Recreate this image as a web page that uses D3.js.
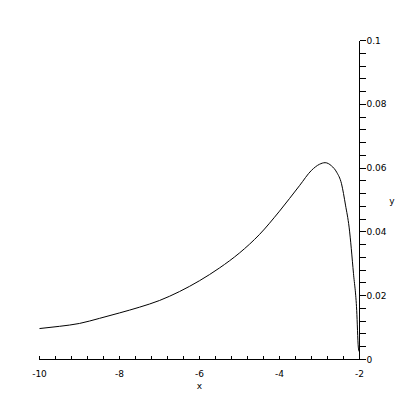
<!DOCTYPE html>
<html>
<head>
<meta charset="utf-8">
<script src="https://cdn.jsdelivr.net/npm/d3@7.9.0/dist/d3.min.js"></script>
<style>
  body { margin: 0; background: #fff; }
  text { font-family: "DejaVu Sans", sans-serif; font-size: 9px; fill: #000; }
  .axis line { shape-rendering: crispEdges; }
</style>
</head>
<body>
<svg id="chart" width="400" height="400"></svg>
<script>
// curve samples
const xValues = [-10, -9.5, -9, -8.5, -8, -7.5, -7, -6.5, -6, -5.5, -5, -4.5, -4, -3.5,
  -3.2, -3.0, -2.86, -2.7, -2.57, -2.45, -2.35, -2.26, -2.15, -2.07, -2.03, -2.01];
const yValues = [0.0097, 0.0104, 0.0113, 0.0129, 0.0146, 0.0164, 0.0185, 0.0213, 0.0247,
  0.0287, 0.0334, 0.0392, 0.0465, 0.0545, 0.0593, 0.0612, 0.0617, 0.0607, 0.0587, 0.0551,
  0.0484, 0.0415, 0.0269, 0.0154, 0.0039, 0.0025];

const xTickLabels = [-10, -8, -6, -4, -2];
const yTickLabels = [0, 0.02, 0.04, 0.06, 0.08, 0.1];

const svg = d3.select('#chart');
const axes = svg.append('g').attr('class', 'axis');

const x = d3.scaleLinear().domain([-10, -2]).range([39.5, 359.5]);
const y = d3.scaleLinear().domain([0, 0.1]).range([359.5, 40.5]);

const xAxisY = y(0);
const yAxisX = x(-2);

// x axis: line, minor ticks pointing up, labels below
axes.append('line')
  .attr('x1', x(-10)).attr('x2', x(-2))
  .attr('y1', xAxisY).attr('y2', xAxisY)
  .attr('stroke', '#000');

const xMinor = d3.range(0, 21).map((i) => -10 + i * 0.4);
axes.selectAll('.xtick').data(xMinor).enter()
  .append('line')
  .attr('x1', (d) => x(d)).attr('x2', (d) => x(d))
  .attr('y1', xAxisY).attr('y2', xAxisY - 4)
  .attr('stroke', '#000');

axes.selectAll('.xlabel').data(xTickLabels).enter()
  .append('text')
  .attr('x', (d) => x(d))
  .attr('y', xAxisY + 17)
  .attr('text-anchor', 'middle')
  .text((d) => d);

axes.append('text')
  .attr('x', x(-6)).attr('y', 389)
  .attr('text-anchor', 'middle')
  .text('x');

// y axis on the right, ticks pointing right
axes.append('line')
  .attr('x1', yAxisX).attr('x2', yAxisX)
  .attr('y1', y(0)).attr('y2', y(0.1))
  .attr('stroke', '#000');

const yMinor = d3.range(0, 26).map((i) => i * 0.004);
axes.selectAll('.ytick').data(yMinor).enter()
  .append('line')
  .attr('x1', yAxisX).attr('x2', yAxisX + 6)
  .attr('y1', (d) => y(d)).attr('y2', (d) => y(d))
  .attr('stroke', '#000');

axes.selectAll('.ylabel').data(yTickLabels).enter()
  .append('text')
  .attr('x', yAxisX + 7)
  .attr('y', (d) => y(d) + 3)
  .text((d) => d);

axes.append('text')
  .attr('x', 392).attr('y', 204)
  .attr('text-anchor', 'middle')
  .text('y');

// the curve
const points = xValues.map((v, i) => [v, yValues[i]]);
const line = d3.line()
  .x((d) => x(d[0]))
  .y((d) => y(d[1]))
  .curve(d3.curveMonotoneX);

svg.append('path')
  .datum(points)
  .attr('d', line)
  .attr('fill', 'none')
  .attr('stroke', '#000')
  .attr('stroke-width', 1);
</script>
</body>
</html>
